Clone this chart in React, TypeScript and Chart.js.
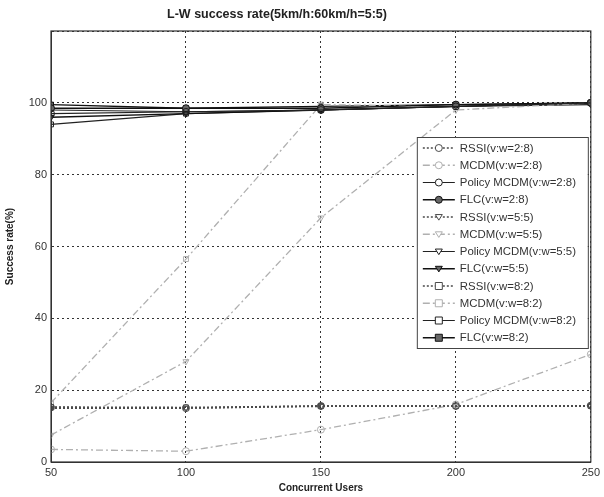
import React, { useEffect, useRef } from "react";
import { Chart, registerables } from "chart.js";

Chart.register(...registerables);

const chartTitle = "L-W success rate(5km/h:60km/h=5:5)";
const users = [50, 100, 150, 200, 250];
const yTicks = [0, 20, 40, 60, 80, 100];

const rssi28 = [15.2, 15.0, 15.6, 15.6, 15.7];
const mcdm28 = [3.5, 3.0, 9.0, 16.0, 30.0];
const policy28 = [97.0, 97.5, 98.0, 99.0, 100.0];
const flc28 = [98.5, 98.5, 98.5, 99.5, 100.0];
const rssi55 = [15.0, 15.0, 15.5, 15.5, 15.5];
const mcdm55 = [7.5, 28.0, 68.0, 98.0, 100.0];
const policy55 = [98.0, 97.5, 98.0, 99.0, 99.5];
const flc55 = [96.0, 97.0, 98.0, 99.0, 100.0];
const rssi82 = [15.3, 15.2, 15.6, 15.6, 15.6];
const mcdm82 = [16.5, 56.5, 99.5, 99.0, 100.0];
const policy82 = [94.0, 97.0, 98.0, 99.0, 100.0];
const flc82 = [99.5, 98.5, 99.0, 99.5, 100.0];

type Style = { color: string; dash: number[]; width: number; fill: string };

const RSSI: Style = { color: "#4a4a4a", dash: [2, 2], width: 1.5, fill: "rgba(255,255,255,0)" };
const MCDM: Style = { color: "#b0b0b0", dash: [7, 3, 2, 3], width: 1.3, fill: "rgba(255,255,255,0)" };
const POLICY: Style = { color: "#222222", dash: [], width: 1.1, fill: "rgba(255,255,255,0)" };
const FLC: Style = { color: "#111111", dash: [], width: 1.4, fill: "#666666" };

const seriesDefs: { label: string; data: number[]; style: Style; marker: string }[] = [
  { label: "RSSI(v:w=2:8)", data: rssi28, style: RSSI, marker: "circle" },
  { label: "MCDM(v:w=2:8)", data: mcdm28, style: MCDM, marker: "circle" },
  { label: "Policy MCDM(v:w=2:8)", data: policy28, style: POLICY, marker: "circle" },
  { label: "FLC(v:w=2:8)", data: flc28, style: FLC, marker: "circle" },
  { label: "RSSI(v:w=5:5)", data: rssi55, style: RSSI, marker: "triangle" },
  { label: "MCDM(v:w=5:5)", data: mcdm55, style: MCDM, marker: "triangle" },
  { label: "Policy MCDM(v:w=5:5)", data: policy55, style: POLICY, marker: "triangle" },
  { label: "FLC(v:w=5:5)", data: flc55, style: FLC, marker: "triangle" },
  { label: "RSSI(v:w=8:2)", data: rssi82, style: RSSI, marker: "rect" },
  { label: "MCDM(v:w=8:2)", data: mcdm82, style: MCDM, marker: "rect" },
  { label: "Policy MCDM(v:w=8:2)", data: policy82, style: POLICY, marker: "rect" },
  { label: "FLC(v:w=8:2)", data: flc82, style: FLC, marker: "rect" },
];

function drawMarker(ctx: CanvasRenderingContext2D, kind: string, x: number, y: number, r: number) {
  ctx.beginPath();
  if (kind === "circle") {
    ctx.arc(x, y, r, 0, Math.PI * 2);
  } else if (kind === "rect") {
    ctx.rect(x - r, y - r, 2 * r, 2 * r);
  } else {
    ctx.moveTo(x - r, y - r * 0.7);
    ctx.lineTo(x + r, y - r * 0.7);
    ctx.lineTo(x, y + r * 0.9);
    ctx.closePath();
  }
}

const frameAndLegend = {
  id: "frameAndLegend",
  afterDraw(chart: any) {
    const ctx: CanvasRenderingContext2D = chart.ctx;
    const a = chart.chartArea;
    ctx.save();
    ctx.strokeStyle = "#333";
    ctx.lineWidth = 1.2;
    ctx.setLineDash([]);
    ctx.strokeRect(a.left, a.top, a.right - a.left, a.bottom - a.top);

    // title
    ctx.fillStyle = "#222";
    ctx.font = "bold 12.5px 'Liberation Sans', Arial, sans-serif";
    ctx.textAlign = "center";
    ctx.textBaseline = "middle";
    ctx.fillText(chartTitle, 277, 15);
    ctx.textAlign = "left";

    const bw = 171;
    const bh = 211;
    const bx = a.right - bw - 3;
    const by = a.top + 106;
    ctx.fillStyle = "#fff";
    ctx.fillRect(bx, by, bw, bh);
    ctx.strokeStyle = "#444";
    ctx.lineWidth = 1;
    ctx.strokeRect(bx + 0.5, by + 0.5, bw, bh);
    const step = 17.25;
    ctx.font = "11.4px 'Liberation Sans', Arial, sans-serif";
    seriesDefs.forEach((s, i) => {
      const y = by + 11 + i * step;
      const x0 = bx + 6;
      const x1 = bx + 38;
      ctx.strokeStyle = s.style.color;
      ctx.lineWidth = s.style.width;
      ctx.setLineDash(s.style.dash);
      ctx.beginPath();
      ctx.moveTo(x0, y);
      ctx.lineTo(x1, y);
      ctx.stroke();
      ctx.setLineDash([]);
      ctx.lineWidth = 1;
      drawMarker(ctx, s.marker, (x0 + x1) / 2, y, 3.5);
      ctx.fillStyle = s.style.fill === "rgba(255,255,255,0)" ? "#fff" : s.style.fill;
      ctx.fill();
      ctx.stroke();
      ctx.fillStyle = "#333";
      ctx.fillText(s.label, x1 + 5, y + 0.5);
    });
    ctx.restore();
  },
};

export default function App() {
  const ref = useRef<HTMLCanvasElement | null>(null);
  useEffect(() => {
    if (!ref.current) return;
    const datasets = seriesDefs.map((s) => ({
      label: s.label,
      data: users.map((u, i) => ({ x: u, y: s.data[i] })),
      borderColor: s.style.color,
      borderWidth: s.style.width,
      borderDash: s.style.dash,
      backgroundColor: s.style.fill,
      pointStyle: s.marker,
      pointRotation: s.marker === "triangle" ? 180 : 0,
      pointRadius: 3.5,
      pointBorderWidth: 1,
      pointBorderColor: s.style.color,
      pointBackgroundColor: s.style.fill,
      fill: false,
      tension: 0,
    }));
    const chart = new Chart(ref.current, {
      type: "line",
      data: { datasets },
      plugins: [frameAndLegend],
      options: {
        animation: false,
        responsive: false,
        devicePixelRatio: 1,
        layout: { padding: { left: 0, right: 11, top: 31, bottom: 0 } },
        plugins: {
          legend: { display: false },
          tooltip: { enabled: false },
          title: { display: false },
        },
        scales: {
          x: {
            type: "linear",
            min: 50,
            max: 250,
            afterBuildTicks: (scale: any) => {
              scale.ticks = users.map((v) => ({ value: v }));
            },
            afterFit: (scale: any) => {
              scale.height = 35;
            },
            ticks: {
              color: "#333",
              padding: 4,
              maxRotation: 0,
              font: { family: "'Liberation Sans', Arial, sans-serif", size: 11 },
            },
            grid: { color: "#333", lineWidth: 1, drawTicks: false },
            border: { display: true, color: "#333", dash: [2, 3] },
            title: {
              display: true,
              text: "Concurrent Users",
              color: "#222",
              font: { family: "'Liberation Sans', Arial, sans-serif", size: 10, weight: "bold" },
              padding: { top: 2, bottom: 3 },
            },
          },
          y: {
            type: "linear",
            min: 0,
            max: 120,
            afterBuildTicks: (scale: any) => {
              scale.ticks = yTicks.concat([120]).map((v) => ({ value: v }));
            },
            afterFit: (scale: any) => {
              scale.width = 51;
            },
            ticks: {
              color: "#333",
              padding: 4,
              font: { family: "'Liberation Sans', Arial, sans-serif", size: 11 },
              callback: (v: any) => (Number(v) > 100 ? "" : String(v)),
            },
            grid: { color: "#333", lineWidth: 1, drawTicks: false },
            border: { display: true, color: "#333", dash: [2, 3] },
            title: {
              display: true,
              text: "Success rate(%)",
              color: "#222",
              font: { family: "'Liberation Sans', Arial, sans-serif", size: 10, weight: "bold" },
              padding: { top: 4, bottom: 4 },
            },
          },
        },
      } as any,
    });
    return () => chart.destroy();
  }, []);
  return (
    <div style={{ position: "absolute", left: 0, top: 0, width: 604, height: 497, background: "#fff" }}>
      <canvas ref={ref} width={604} height={497} style={{ width: 604, height: 497, display: "block" }} />
    </div>
  );
}
